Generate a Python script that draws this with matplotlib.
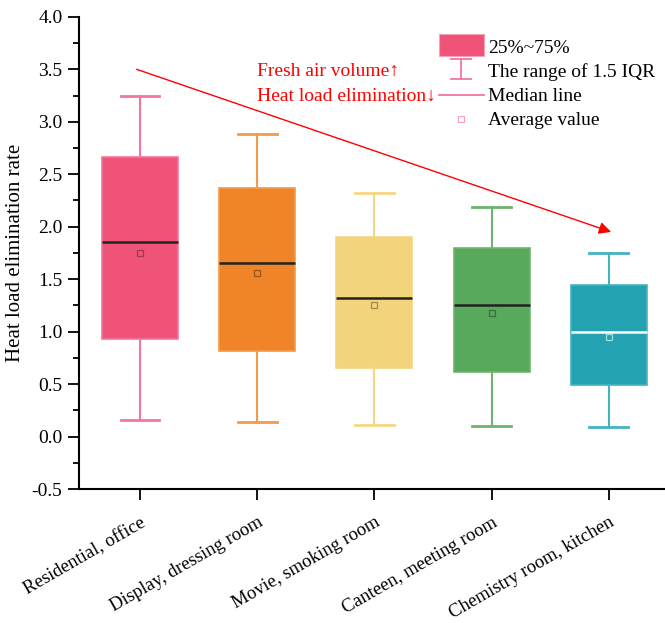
import matplotlib
matplotlib.use("Agg")
import matplotlib.pyplot as plt
from matplotlib.patches import Rectangle
from matplotlib.lines import Line2D
from matplotlib.legend_handler import HandlerBase
from matplotlib.ticker import MultipleLocator

plt.rcParams['font.family'] = ['Liberation Serif', 'DejaVu Serif']

categories = ["Residential, office", "Display, dressing room", "Movie, smoking room",
              "Canteen, meeting room", "Chemistry room, kitchen"]
q1 = [0.93, 0.82, 0.65, 0.62, 0.49]
q3 = [2.66, 2.37, 1.90, 1.80, 1.44]
medians = [1.85, 1.65, 1.32, 1.25, 1.00]
means = [1.75, 1.56, 1.25, 1.18, 0.95]
whisker_low = [0.16, 0.14, 0.11, 0.10, 0.09]
whisker_high = [3.25, 2.88, 2.32, 2.19, 1.75]

fill_colors = ["#EF5478", "#EF8429", "#F2D47C", "#59A95D", "#23A3B1"]
line_colors = ["#F4769A", "#F59A48", "#F5D683", "#6DB56F", "#45B3BF"]
median_colors = ["#222222", "#222222", "#222222", "#222222", "#FFFFFF"]
mean_colors = ["#9E3A55", "#9A5520", "#A08A50", "#3A6E3D", "#9FDDE3"]

fig = plt.figure(figsize=(6.65, 6.23), dpi=100)
ax = fig.add_axes([0.119, 0.215, 0.881, 0.758])

stats = []
for i in range(len(categories)):
    stats.append(dict(med=medians[i], q1=q1[i], q3=q3[i], whislo=whisker_low[i],
                      whishi=whisker_high[i], mean=means[i], fliers=[], label=categories[i]))

pos = list(range(len(categories)))
bp = ax.bxp(stats, positions=pos, widths=0.65, patch_artist=True, showmeans=True,
            showfliers=False, manage_ticks=False)
for i in range(len(categories)):
    bp['boxes'][i].set_facecolor(fill_colors[i])
    bp['boxes'][i].set_edgecolor(line_colors[i])
    bp['boxes'][i].set_linewidth(1.2)
    for w in bp['whiskers'][2 * i:2 * i + 2]:
        w.set_color(line_colors[i]); w.set_linewidth(1.5)
    for c in bp['caps'][2 * i:2 * i + 2]:
        c.set_color(line_colors[i]); c.set_linewidth(2.0)
        c.set_xdata([pos[i] - 0.165, pos[i] + 0.165])
    bp['medians'][i].set_color(median_colors[i])
    bp['medians'][i].set_linewidth(1.8)
    m = bp['means'][i]
    m.set_marker('s'); m.set_markerfacecolor('none'); m.set_markeredgecolor(mean_colors[i])
    m.set_markersize(5); m.set_markeredgewidth(0.9)

ax.set_xlim(-0.52, 4.48)
ax.set_ylim(-0.5, 4.0)
ax.yaxis.set_major_locator(MultipleLocator(0.5))
ax.yaxis.set_minor_locator(MultipleLocator(0.25))
ax.set_yticklabels([f"{v:.1f}" for v in ax.get_yticks()])
ax.set_xticks(pos)
ax.set_xticklabels(categories, rotation=30, ha='right', rotation_mode='anchor')
ax.tick_params(axis='both', which='major', direction='out', length=8, width=1.3, labelsize=14)
ax.tick_params(axis='x', labelsize=13.5)
ax.tick_params(axis='y', which='minor', direction='out', length=4, width=1.3)
ax.tick_params(axis='x', which='minor', length=0)
ax.tick_params(axis='x', pad=10)
ax.tick_params(axis='y', pad=4)
for s in ['top', 'right']:
    ax.spines[s].set_visible(False)
for s in ['left', 'bottom']:
    ax.spines[s].set_linewidth(1.5)
ax.set_ylabel("Heat load elimination rate", fontsize=15, labelpad=5)

# Trend arrow and its caption
ax.annotate("", xy=(4.02, 1.95), xytext=(-0.03, 3.5),
            arrowprops=dict(arrowstyle="-|>", color="red", lw=1.0, mutation_scale=18,
                            shrinkA=0, shrinkB=0))
ax.text(1.0, 3.48, "Fresh air volume\u2191", color="red", fontsize=14, ha='left', va='center',
        family=['Liberation Serif', 'DejaVu Sans'])
ax.text(1.0, 3.245, "Heat load elimination\u2193", color="red", fontsize=14, ha='left', va='center',
        family=['Liberation Serif', 'DejaVu Sans'])


class IQRHandler(HandlerBase):
    def create_artists(self, legend, orig_handle, xdescent, ydescent, width, height, fontsize, trans):
        cx = width / 2 - xdescent
        h = height * 1.45
        y0 = -ydescent + height / 2 - h / 2 + 1
        col = orig_handle.get_color()
        arts = [Line2D([cx, cx], [y0, y0 + h], color=col, lw=1.3, transform=trans),
                Line2D([cx - 7, cx + 7], [y0, y0], color=col, lw=1.3, transform=trans),
                Line2D([cx - 7, cx + 7], [y0 + h, y0 + h], color=col, lw=1.3, transform=trans)]
        return arts


class BoxHandler(HandlerBase):
    def create_artists(self, legend, orig_handle, xdescent, ydescent, width, height, fontsize, trans):
        h = height * 1.6
        r = Rectangle((-xdescent, -ydescent + height / 2 - h / 2 + 1), width, h,
                      facecolor=orig_handle.get_facecolor(), edgecolor="#F7A0B8",
                      lw=0.8, transform=trans)
        return [r]


box_h = Rectangle((0, 0), 1, 1, facecolor=fill_colors[0])
iqr_h = Line2D([], [], color=line_colors[0])
med_h = Line2D([], [], color=line_colors[0], lw=1.3)
mean_h = Line2D([], [], color="#F7A0B8", marker='s', markerfacecolor='none',
                markersize=4, lw=0, markeredgewidth=0.8)
leg = ax.legend([box_h, iqr_h, med_h, mean_h],
                ["25%~75%", "The range of 1.5 IQR", "Median line", "Average value"],
                handler_map={box_h: BoxHandler(), iqr_h: IQRHandler()},
                loc='upper left', bbox_to_anchor=(0.614, 0.952), frameon=False, fontsize=14,
                handlelength=2.3, handletextpad=0.25, labelspacing=0.33, borderaxespad=0,
                borderpad=0)

fig.savefig("out.png", dpi=100)
